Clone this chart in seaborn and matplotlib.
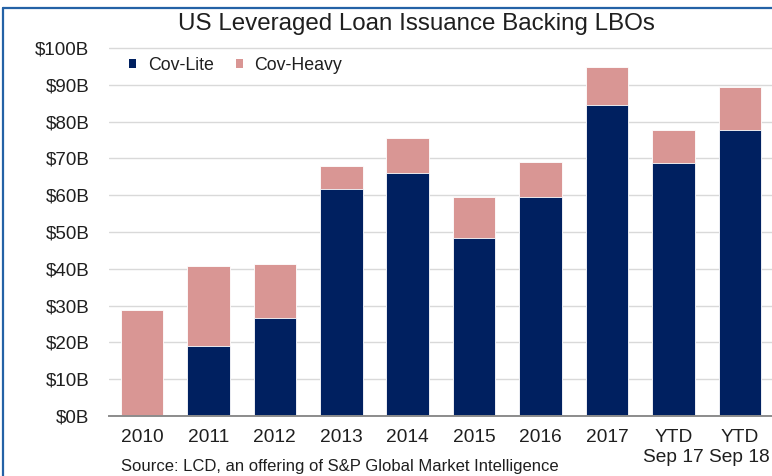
import matplotlib
matplotlib.use("Agg")
import matplotlib.pyplot as plt
from matplotlib.lines import Line2D
from matplotlib.patches import Patch
from matplotlib.ticker import FuncFormatter, MultipleLocator
import seaborn as sns
import pandas as pd

# Issuance by period, $ billions
periods = ["2010", "2011", "2012", "2013", "2014", "2015", "2016", "2017",
           "YTD\nSep 17", "YTD\nSep 18"]
cov_lite = [0.0, 19.1, 26.6, 61.6, 65.9, 48.4, 59.5, 84.6, 68.8, 77.8]
cov_heavy = [28.8, 21.6, 14.6, 6.2, 9.5, 11.0, 9.5, 10.3, 8.9, 11.5]

NAVY = "#002060"
PINK = "#D99694"

df = pd.DataFrame({"period": periods, "lite": cov_lite, "heavy": cov_heavy})
df["total"] = df["lite"] + df["heavy"]

sns.set_style("white")
plt.rcParams["font.family"] = ["Liberation Sans", "DejaVu Sans"]

fig = plt.figure(figsize=(7.72, 4.76), dpi=100)
ax = fig.add_axes([108.8 / 772, 1 - 416 / 476, 664.2 / 772, 375.4 / 476])

# stacked bars: full height in pink, cov-lite portion on top in navy
sns.barplot(data=df, x="period", y="total", color=PINK, saturation=1,
            width=0.64, edgecolor="white", linewidth=0.6, ax=ax, zorder=2)
sns.barplot(data=df, x="period", y="lite", color=NAVY, saturation=1,
            width=0.64, edgecolor="white", linewidth=0.6, ax=ax, zorder=3)

ax.set_ylim(0, 102)
ax.set_xlim(-0.5, len(periods) - 0.5)
ax.yaxis.set_major_locator(MultipleLocator(10))
ax.yaxis.set_major_formatter(FuncFormatter(lambda v, _: f"${v:.0f}B"))
ax.set_xlabel("")
ax.set_ylabel("")

ax.grid(axis="y", color="#D9D9D9", linewidth=1.0, zorder=0)
ax.grid(axis="x", visible=False)
ax.set_axisbelow(True)
for side in ("top", "right", "left"):
    ax.spines[side].set_visible(False)
ax.spines["bottom"].set_color("#8C8C8C")
ax.spines["bottom"].set_linewidth(1.4)
ax.spines["bottom"].set_zorder(4)

ax.tick_params(axis="y", length=0, pad=14, labelsize=13.5, labelcolor="#1F1F1F")
ax.tick_params(axis="x", length=0, pad=9, labelsize=13.8, labelcolor="#1F1F1F")
for lab in ax.get_xticklabels():
    lab.set_linespacing(1.3)

handles = [Patch(facecolor=NAVY, edgecolor="none"),
           Patch(facecolor=PINK, edgecolor="none")]
ax.legend(handles, ["Cov-Lite", "Cov-Heavy"], loc="center left",
          bbox_to_anchor=(0.0304, 0.935), ncol=2, frameon=False,
          fontsize=12.8, handlelength=0.4, handleheight=0.4,
          handletextpad=0.65, columnspacing=1.25, borderpad=0,
          borderaxespad=0, labelcolor="#1F1F1F")

fig.text(416.5 / 772, 1 - 30 / 476, "US Leveraged Loan Issuance Backing LBOs",
         ha="center", va="baseline", fontsize=17.4, color="#1F1F1F")
fig.text(120.7 / 772, 1 - 470.5 / 476,
         "Source: LCD, an offering of S&P Global Market Intelligence",
         ha="left", va="baseline", fontsize=12.0, color="#1F1F1F")

# frame lines along the top and left edges
border = "#2462A6"
fig.add_artist(Line2D([3.5 / 772, 1.0], [1 - 8 / 476, 1 - 8 / 476],
                      transform=fig.transFigure, color=border, linewidth=1.6))
fig.add_artist(Line2D([3.5 / 772, 3.5 / 772], [0.0, 1 - 8 / 476],
                      transform=fig.transFigure, color=border, linewidth=1.6))

fig.savefig("out.png", dpi=100)
